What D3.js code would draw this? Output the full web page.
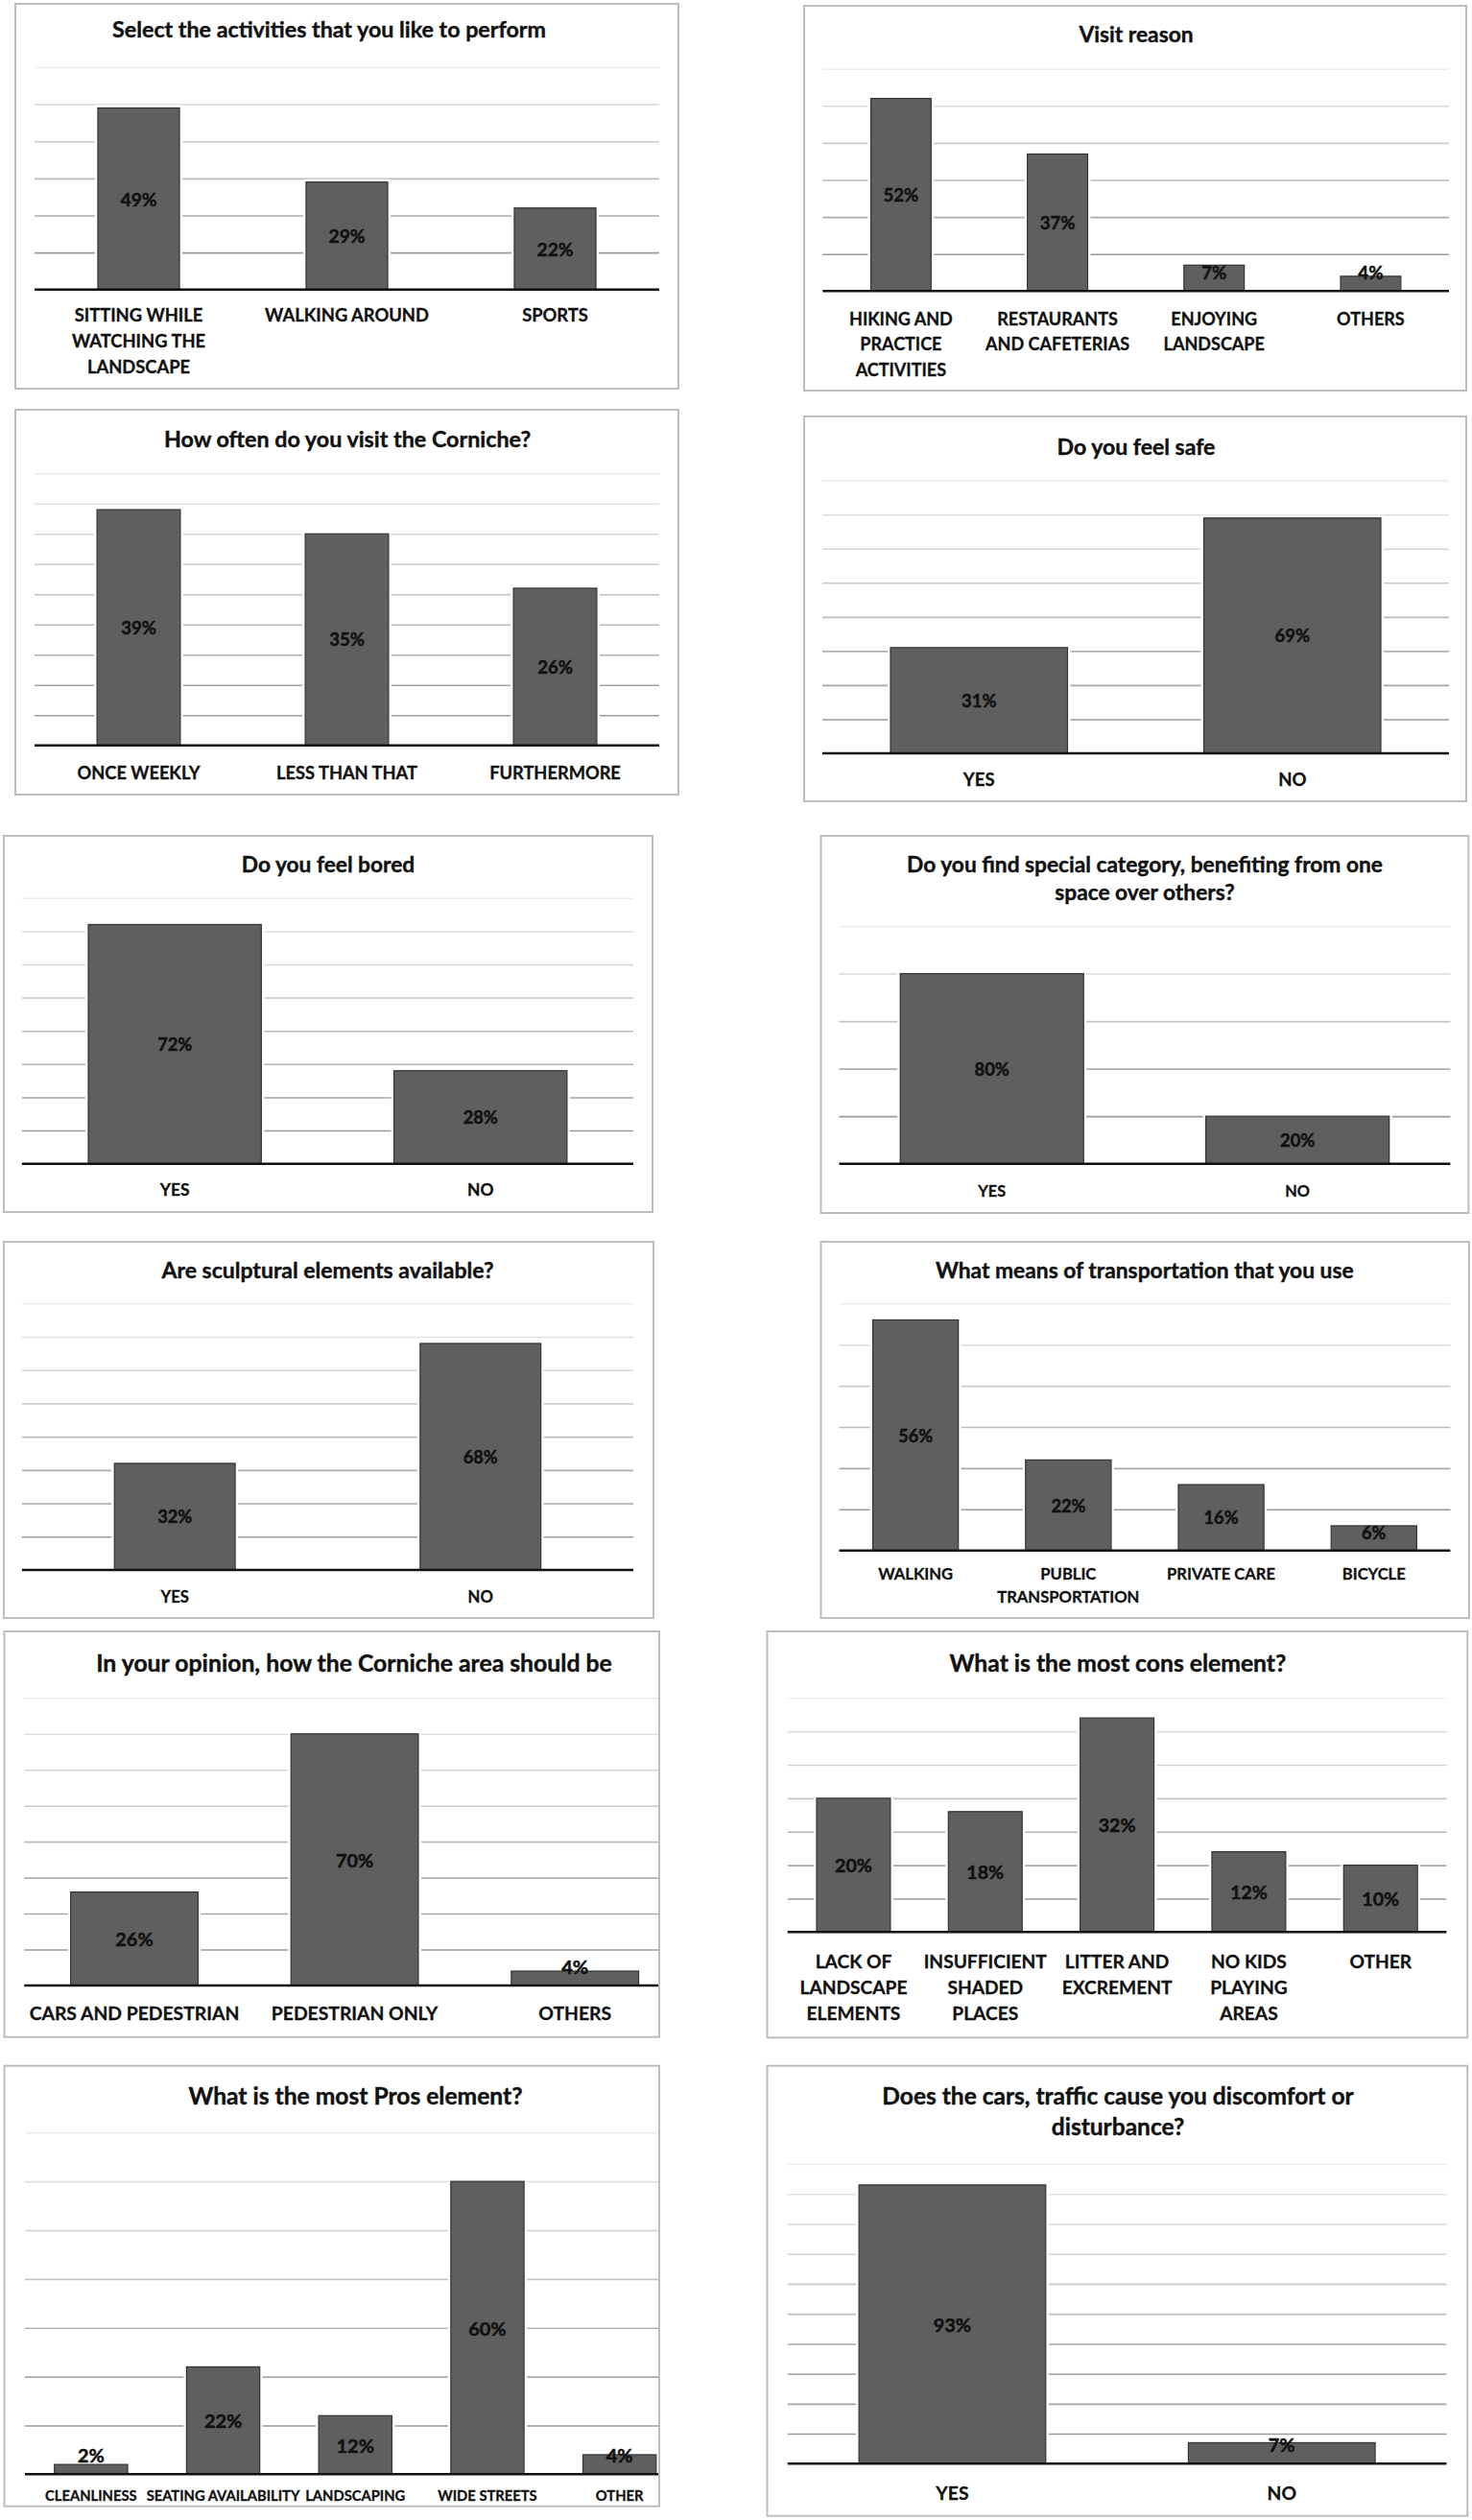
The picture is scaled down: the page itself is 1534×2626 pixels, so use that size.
<!DOCTYPE html>
<html><head><meta charset="utf-8">
<script src="https://cdn.jsdelivr.net/npm/d3@7"></script>
<style>
html,body{margin:0;padding:0;background:#fff;}
svg{display:block;}
text{font-family:Lato,"Open Sans","Noto Sans",sans-serif;fill:#111;}
</style></head><body>
<svg id="chart" width="1534" height="2626"></svg>
<script>
// ---------- DATA ----------
const activitiesTitle = ["Select the activities that you like to perform"];
const activitiesCategories = ["SITTING WHILE\nWATCHING THE\nLANDSCAPE", "WALKING AROUND", "SPORTS"];
const activitiesValues = [49, 29, 22];
const activitiesTicks = [0, 10, 20, 30, 40, 50, 60];

const visitReasonTitle = ["Visit reason"];
const visitReasonCategories = ["HIKING AND\nPRACTICE\nACTIVITIES", "RESTAURANTS\nAND CAFETERIAS", "ENJOYING\nLANDSCAPE", "OTHERS"];
const visitReasonValues = [52, 37, 7, 4];
const visitReasonTicks = [0, 10, 20, 30, 40, 50, 60];

const frequencyTitle = ["How often do you visit the Corniche?"];
const frequencyCategories = ["ONCE WEEKLY", "LESS THAN THAT", "FURTHERMORE"];
const frequencyValues = [39, 35, 26];
const frequencyTicks = [0, 5, 10, 15, 20, 25, 30, 35, 40, 45];

const safeTitle = ["Do you feel safe"];
const safeCategories = ["YES", "NO"];
const safeValues = [31, 69];
const safeTicks = [0, 10, 20, 30, 40, 50, 60, 70, 80];

const boredTitle = ["Do you feel bored"];
const boredCategories = ["YES", "NO"];
const boredValues = [72, 28];
const boredTicks = [0, 10, 20, 30, 40, 50, 60, 70, 80];

const specialTitle = ["Do you find special category, benefiting from one", "space over others?"];
const specialCategories = ["YES", "NO"];
const specialValues = [80, 20];
const specialTicks = [0, 20, 40, 60, 80, 100];

const sculptureTitle = ["Are sculptural elements available?"];
const sculptureCategories = ["YES", "NO"];
const sculptureValues = [32, 68];
const sculptureTicks = [0, 10, 20, 30, 40, 50, 60, 70, 80];

const transportTitle = ["What means of transportation that you use"];
const transportCategories = ["WALKING", "PUBLIC\nTRANSPORTATION", "PRIVATE CARE", "BICYCLE"];
const transportValues = [56, 22, 16, 6];
const transportTicks = [0, 10, 20, 30, 40, 50, 60];

const opinionTitle = ["In your opinion, how the Corniche area should be"];
const opinionCategories = ["CARS AND PEDESTRIAN", "PEDESTRIAN ONLY", "OTHERS"];
const opinionValues = [26, 70, 4];
const opinionTicks = [0, 10, 20, 30, 40, 50, 60, 70, 80];

const consTitle = ["What is the most cons element?"];
const consCategories = ["LACK OF\nLANDSCAPE\nELEMENTS", "INSUFFICIENT\nSHADED\nPLACES", "LITTER AND\nEXCREMENT", "NO KIDS\nPLAYING\nAREAS", "OTHER"];
const consValues = [20, 18, 32, 12, 10];
const consTicks = [0, 5, 10, 15, 20, 25, 30, 35];

const prosTitle = ["What is the most Pros element?"];
const prosCategories = ["CLEANLINESS", "SEATING AVAILABILITY", "LANDSCAPING", "WIDE STREETS", "OTHER"];
const prosValues = [2, 22, 12, 60, 4];
const prosTicks = [0, 10, 20, 30, 40, 50, 60, 70];

const trafficTitle = ["Does the cars, traffic cause you discomfort or", "disturbance?"];
const trafficCategories = ["YES", "NO"];
const trafficValues = [93, 7];
const trafficTicks = [0, 10, 20, 30, 40, 50, 60, 70, 80, 90, 100];

const panelData = [
  {title: activitiesTitle, cats: activitiesCategories, vals: activitiesValues, ticks: activitiesTicks},
  {title: visitReasonTitle, cats: visitReasonCategories, vals: visitReasonValues, ticks: visitReasonTicks},
  {title: frequencyTitle, cats: frequencyCategories, vals: frequencyValues, ticks: frequencyTicks},
  {title: safeTitle, cats: safeCategories, vals: safeValues, ticks: safeTicks},
  {title: boredTitle, cats: boredCategories, vals: boredValues, ticks: boredTicks},
  {title: specialTitle, cats: specialCategories, vals: specialValues, ticks: specialTicks},
  {title: sculptureTitle, cats: sculptureCategories, vals: sculptureValues, ticks: sculptureTicks},
  {title: transportTitle, cats: transportCategories, vals: transportValues, ticks: transportTicks},
  {title: opinionTitle, cats: opinionCategories, vals: opinionValues, ticks: opinionTicks},
  {title: consTitle, cats: consCategories, vals: consValues, ticks: consTicks},
  {title: prosTitle, cats: prosCategories, vals: prosValues, ticks: prosTicks},
  {title: trafficTitle, cats: trafficCategories, vals: trafficValues, ticks: trafficTicks}
];

// ---------- LAYOUT (pixels) ----------
const layouts = [
  {box:[16,4,707,405], plot:[36,687,70,301.7], bar:0.392, tx:343, ty:30, tlh:0, tw:452, cy:328.3, clh:26.7, cfit:["WALKING AROUND",171], vw:38},
  {box:[838,6,1528,407], plot:[857.3,1510,71.7,303.3], bar:0.385, tx:1184, ty:35, tlh:0, tw:119.3, cy:331.7, clh:26.7, cfit:["AND CAFETERIAS",150], vw:36.9},
  {box:[16,427,707,828], plot:[36,687,493.3,776.7], bar:0.40, tx:362, ty:456.7, tlh:0, tw:382.5, cy:805, clh:26.7, cfit:["LESS THAN THAT",147], vw:36.7},
  {box:[838,434,1528,835], plot:[857,1510,500.7,785], bar:0.565, tx:1184, ty:465, tlh:0, tw:164.9, cy:811.7, clh:26.7, cfit:["YES",32.8], vw:36.4},
  {box:[4,871,680,1263], plot:[22.9,660,935.7,1212.7], bar:0.566, tx:342, ty:900, tlh:0, tw:180.4, cy:1239.3, clh:26.7, cfit:["YES",30.8], vw:36.1},
  {box:[855.5,871,1530.4,1264], plot:[874.5,1511.4,965,1212.7], bar:0.60, tx:1193, ty:900, tlh:29, tw:496, cy:1240, clh:26.7, cfit:["YES",28.8], vw:36.3},
  {box:[4,1294,681,1686], plot:[22.9,660,1358.3,1636], bar:0.395, tx:341.5, ty:1323.3, tlh:0, tw:346.3, cy:1664, clh:26.7, cfit:["YES",29.5], vw:36.1},
  {box:[855.5,1294,1531,1686], plot:[874.5,1511.4,1358.3,1615.7], bar:0.56, tx:1192.8, ty:1323.3, tlh:0, tw:436, cy:1640, clh:24.3, cfit:["TRANSPORTATION",148.3], vw:35.9},
  {box:[4.5,1700,687,2122.7], plot:[25.2,714,1769.3,2069], bar:0.578, tx:369, ty:1731.7, tlh:0, tw:537.9, cy:2097.3, clh:26.7, cfit:["CARS AND PEDESTRIAN",218.7], vw:39.3},
  {box:[799.5,1700,1529.3,2123.3], plot:[820.8,1507.4,1769.3,2013.3], bar:0.56, tx:1165, ty:1731.7, tlh:0, tw:351, cy:2042.7, clh:27.3, cfit:["EXCREMENT",114.8], vw:38.9},
  {box:[4.5,2152.7,687,2611.7], plot:[26,714.5,2222.3,2578.3], bar:0.554, tx:370.5, ty:2183.3, tlh:0, tw:348.2, cy:2600, clh:20, cfit:["SEATING AVAILABILITY",160], vw:39.3},
  {box:[799.5,2152.7,1529.3,2621.7], plot:[820.8,1507.4,2255,2567.3], bar:0.567, tx:1165, ty:2183.3, tlh:31.7, tw:491.6, cy:2597.3, clh:26.7, cfit:["YES",34.2], vw:39.4}
];

// ---------- DRAW ----------
const svg = d3.select("#chart");
const defs = svg.append("defs");
const gridColor = d3.interpolateRgb("#ececec", "#9a9a9a");

function measure(str, weight, size) {
  const t = svg.append("text").attr("font-weight", weight).attr("font-size", size).text(str);
  const w = t.node().getComputedTextLength();
  t.remove();
  return w;
}
function fit(str, weight, target) { return 20 * target / measure(str, weight, 20); }

panelData.forEach((d, i) => {
  const L = layouts[i];
  const [bx0, by0, bx1, by1] = L.box;
  const [px0, px1, pTop, pBase] = L.plot;
  const g = svg.append("g").attr("class", "panel");

  defs.append("clipPath").attr("id", "clip" + i)
    .append("rect").attr("x", bx0).attr("y", by0).attr("width", bx1 - bx0).attr("height", by1 - by0);
  const inner = g.append("g").attr("clip-path", `url(#clip${i})`);

  const yMax = d.ticks[d.ticks.length - 1];
  const x = d3.scaleBand().domain(d.cats).range([px0, px1])
    .paddingInner(1 - L.bar).paddingOuter((1 - L.bar) / 2);
  const y = d3.scaleLinear().domain([0, yMax]).range([pBase, pTop]);

  // gridlines
  const grid = inner.append("g").attr("transform", `translate(${px0},0)`)
    .call(d3.axisLeft(y).tickValues(d.ticks.slice(1)).tickSize(-(px1 - px0)).tickFormat(""));
  grid.select(".domain").remove();
  grid.selectAll(".tick line")
    .attr("stroke", t => gridColor((yMax - t) / (yMax - d.ticks[1])))
    .attr("stroke-width", 1.6);

  const rows = d.cats.map((c, j) => ({c, v: d.vals[j]}));

  // white halo behind bars
  inner.selectAll("rect.halo").data(rows).join("rect").attr("class", "halo")
    .attr("x", r => x(r.c)).attr("y", r => y(r.v))
    .attr("width", x.bandwidth()).attr("height", r => pBase - y(r.v))
    .attr("fill", "#fff").attr("stroke", "#fff").attr("stroke-width", 6);

  // bars
  inner.selectAll("rect.bar").data(rows).join("rect").attr("class", "bar")
    .attr("x", r => x(r.c)).attr("y", r => y(r.v))
    .attr("width", x.bandwidth()).attr("height", r => pBase - y(r.v))
    .attr("fill", "#5f5f5f").attr("stroke", "#333").attr("stroke-width", 1.2);

  // baseline axis
  const xAxis = inner.append("g").attr("transform", `translate(0,${pBase})`)
    .call(d3.axisBottom(x).tickSize(0).tickFormat(""));
  xAxis.select(".domain").attr("stroke", "#111").attr("stroke-width", 2.6)
    .attr("d", `M${px0},0H${px1}`);

  // value labels
  const maxIdx = d.vals.indexOf(d3.max(d.vals));
  const vfs = fit(d.vals[maxIdx] + "%", "bold", L.vw);
  inner.selectAll("text.val").data(rows).join("text").attr("class", "val")
    .attr("x", r => x(r.c) + x.bandwidth() / 2)
    .attr("y", r => Math.min((y(r.v) + pBase) / 2, pBase - vfs * 1.02))
    .attr("text-anchor", "middle").attr("dominant-baseline", "central")
    .attr("font-weight", "bold").attr("font-size", vfs)
    .attr("stroke", "#111").attr("stroke-width", 0.5)
    .text(r => r.v + "%");

  // category labels
  const cfs = fit(L.cfit[0], "bold", L.cfit[1]);
  const cat = g.selectAll("text.cat").data(rows).join("text").attr("class", "cat")
    .attr("text-anchor", "middle").attr("font-weight", "bold").attr("font-size", cfs)
    .attr("stroke", "#111").attr("stroke-width", 0.3)
    .attr("dominant-baseline", "central");
  cat.each(function(r) {
    const lines = r.c.split("\n");
    const cx = x(r.c) + x.bandwidth() / 2;
    d3.select(this).selectAll("tspan").data(lines).join("tspan")
      .attr("x", cx).attr("y", (s, k) => L.cy + k * L.clh).text(s => s);
  });

  // title
  const tfs = fit(d.title[0], "bold", L.tw);
  g.append("text").attr("text-anchor", "middle").attr("font-weight", "bold")
    .attr("font-size", tfs).attr("dominant-baseline", "central")
    .attr("stroke", "#111").attr("stroke-width", 0.4)
    .selectAll("tspan").data(d.title).join("tspan")
    .attr("x", L.tx).attr("y", (s, k) => L.ty + k * L.tlh).text(s => s);

  // border
  g.append("rect").attr("x", bx0).attr("y", by0).attr("width", bx1 - bx0).attr("height", by1 - by0)
    .attr("fill", "none").attr("stroke", "#bdbdbd").attr("stroke-width", 2);
});
</script>
</body></html>
